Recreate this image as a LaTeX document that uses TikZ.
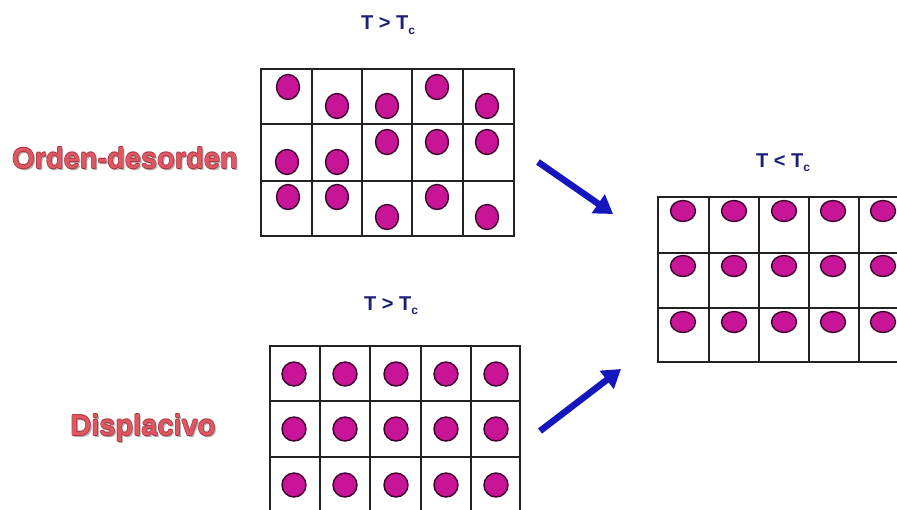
\documentclass[tikz,border=0pt]{standalone}
\usepackage{fontspec}
\setmainfont{Liberation Sans}
\usetikzlibrary{arrows.meta,calc}
\definecolor{navy}{RGB}{28,32,120}
\definecolor{wordred}{RGB}{222,88,98}
\definecolor{wordedge}{RGB}{170,50,65}
\definecolor{atomfill}{RGB}{200,20,150}
\definecolor{atomedge}{RGB}{60,0,45}
\definecolor{gridline}{RGB}{35,35,35}
\definecolor{arrowblue}{RGB}{22,22,190}
\tikzset{
  templabel/.style={font=\bfseries\fontsize{20}{20}\selectfont, text=navy, inner sep=0pt, anchor=base},
  wordart/.style={font=\bfseries\fontsize{29}{29}\selectfont, text=wordred, inner sep=0pt, anchor=base},
  wordshadow/.style={font=\bfseries\fontsize{29}{29}\selectfont, text=black!30, inner sep=0pt, anchor=base},
  wordoutline/.style={font=\bfseries\fontsize{29}{29}\selectfont, text=wordedge, inner sep=0pt, anchor=base},
  gridstyle/.style={draw=gridline, line width=1.8pt, line cap=rect},
  atom/.style={fill=atomfill, draw=atomedge, line width=1.4pt},
  bluearrow/.style={draw=arrowblue, line width=6.5pt, -{Triangle[length=18pt,width=22pt]}},
}
\newcommand{\tcsub}[1]{\raisebox{-4.5pt}{\fontsize{12}{12}\selectfont #1}}
\newcommand{\wordartlabel}[3]{%
  \node[wordshadow] at ($(#2)+(1.6,1.6)$) {#3};
  \foreach \dx/\dy in {-0.6/0,0.6/0,0/-0.6,0/0.6} {\node[wordoutline] at ($(#2)+(\dx,\dy)$) {#3};}
  \node[wordart] (#1) at (#2) {#3};}
\begin{document}
\begin{tikzpicture}[x=1pt,y=-1pt]
\useasboundingbox (0,0) rectangle (897,509);
\clip (0,0) rectangle (897,509);
\fill[white] (0,0) rectangle (897,509);

% ---------- top grid (orden-desorden) ----------
\foreach \x in {261,312,362,412,463,514} \draw[gridstyle] (\x,69) -- (\x,236);
\foreach \y in {69,124,181,236} \draw[gridstyle] (261,\y) -- (514,\y);
\foreach \x/\y in {288/87,337/106,387/106,437/87,487/106,
                   287/162,337/162,387/142,437/142,487/142,
                   288/197,337/197,387/217,437/197,487/217}
  \draw[atom] (\x,\y) ellipse [x radius=11.5, y radius=12.5];

% ---------- right grid (T < Tc) ----------
\foreach \x in {658,709,759,809,859,909} \draw[gridstyle] (\x,197) -- (\x,362);
\foreach \y in {197,253,308,362} \draw[gridstyle] (658,\y) -- (909,\y);
\foreach \y in {211,266,322}
  \foreach \x in {683,734,784,833,883}
    \draw[atom] (\x,\y) ellipse [x radius=12.5, y radius=10.5];

% ---------- bottom grid (displacivo) ----------
\foreach \x in {270,320,370,421,471,520} \draw[gridstyle] (\x,346) -- (\x,515);
\foreach \y in {346,401,457} \draw[gridstyle] (270,\y) -- (520,\y);
\foreach \y in {374,429,485}
  \foreach \x in {294,345,396,446,496}
    \draw[atom] (\x,\y) circle [radius=12];

% ---------- labels ----------
\node[templabel] (tc1) at (388,29.5) {T > T\tcsub{c}};
\node[templabel] (tc2) at (391,310) {T > T\tcsub{c}};
\node[templabel] (tc3) at (783,167) {T < T\tcsub{c}};

\coordinate (odpos) at (125,168.5);
\coordinate (dppos) at (143,435.5);
\wordartlabel{od}{odpos}{Orden-desorden}
\wordartlabel{dp}{dppos}{Displacivo}

% ---------- arrows ----------
\coordinate (a1s) at (538,162);
\coordinate (a1e) at (613,214);
\coordinate (a2s) at (540,431);
\coordinate (a2e) at (621,369);
\draw[bluearrow] (a1s) -- (a1e);
\draw[bluearrow] (a2s) -- (a2e);
\end{tikzpicture}
\end{document}
